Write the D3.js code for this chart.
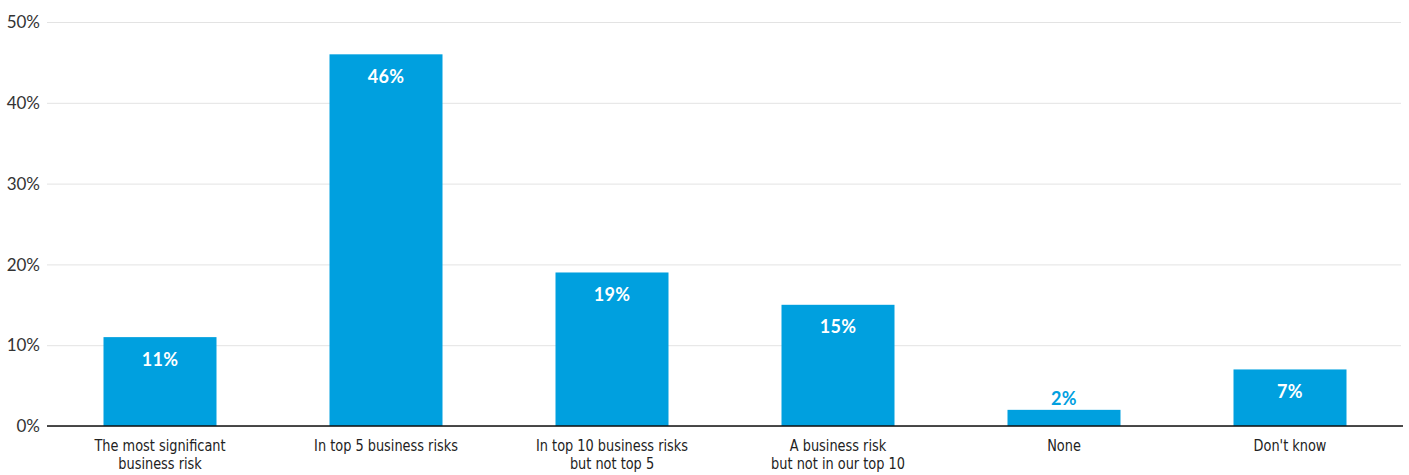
<!DOCTYPE html>
<html>
<head>
<meta charset="utf-8">
<script src="https://cdn.jsdelivr.net/npm/d3@7"></script>
<style>
  html, body { margin: 0; padding: 0; background: #fff; }
  svg { display: block; }
</style>
</head>
<body>
<svg id="chart" width="1409" height="475"></svg>
<script>
// Survey answers and their shares (percent)
const categories = [
  ["The most significant", "business risk"],
  ["In top 5 business risks"],
  ["In top 10 business risks", "but not top 5"],
  ["A business risk", "but not in our top 10"],
  ["None"],
  ["Don't know"]
];
const values = [11, 46, 19, 15, 2, 7];
const yTicks = [0, 10, 20, 30, 40, 50];

const W = 1409, H = 475;
const margin = { left: 47, right: 6, top: 22, bottom: 49 };
const barColor = "#00a0df";

const svg = d3.select("#chart");

const x = d3.scaleBand()
  .domain(d3.range(categories.length))
  .range([margin.left, W - margin.right])
  .paddingInner(0.5)
  .paddingOuter(0.25);

const y = d3.scaleLinear()
  .domain([0, 50])
  .range([H - margin.bottom, margin.top]);

// Horizontal gridlines + percentage labels
const yAxis = d3.axisLeft(y)
  .tickValues(yTicks)
  .tickSize(-(W - margin.right - margin.left - 2))
  .tickPadding(7)
  .tickFormat(d => d + "%");

const gy = svg.append("g")
  .attr("transform", `translate(${margin.left},0)`)
  .call(yAxis);
gy.select(".domain").remove();
gy.selectAll(".tick line").attr("stroke", "#e3e3e3").attr("stroke-width", 1);
gy.selectAll(".tick text")
  .attr("fill", "#333")
  .style("font-family", "Lato, 'Open Sans', sans-serif")
  .style("font-size", "17px")
  .attr("dy", "0.34em");

// Bars
svg.append("g").selectAll("rect")
  .data(values)
  .join("rect")
  .attr("x", (d, i) => x(i))
  .attr("width", x.bandwidth())
  .attr("y", d => y(d))
  .attr("height", d => y(0) - y(d))
  .attr("fill", barColor);

// Value labels: inside the bar when it is tall enough, otherwise above it
svg.append("g").selectAll("text")
  .data(values)
  .join("text")
  .attr("x", (d, i) => x(i) + x.bandwidth() / 2)
  .attr("y", d => (y(0) - y(d) > 30) ? y(d) + 22 : y(d) - 11)
  .attr("dy", "0.36em")
  .attr("text-anchor", "middle")
  .attr("fill", d => (y(0) - y(d) > 30) ? "#fff" : barColor)
  .style("font-family", "Lato, 'Open Sans', sans-serif")
  .style("font-weight", "700")
  .style("font-size", "18px")
  .style("letter-spacing", "0.3px")
  .text(d => d + "%");

// Baseline
svg.append("line")
  .attr("x1", margin.left)
  .attr("x2", W - margin.right)
  .attr("y1", y(0))
  .attr("y2", y(0))
  .attr("stroke", "#111")
  .attr("stroke-width", 1.3);

// Category labels (narrowed horizontally for a condensed look)
const xAxis = d3.axisBottom(x).tickSize(0).tickFormat("");
const gx = svg.append("g")
  .attr("transform", `translate(0,${y(0)})`)
  .call(xAxis);
gx.select(".domain").remove();
gx.selectAll(".tick").each(function(i) {
  const t = d3.select(this).append("text")
    .attr("text-anchor", "middle")
    .attr("transform", "scale(0.87,1)")
    .attr("fill", "#222")
    .style("font-family", "'DejaVu Sans Condensed', 'DejaVu Sans', sans-serif")
    .style("font-stretch", "condensed")
    .style("font-size", "16.5px");
  categories[i].forEach((line, k) => {
    t.append("tspan")
      .attr("x", 0)
      .attr("y", 25 + k * 18)
      .text(line);
  });
});
</script>
</body>
</html>
